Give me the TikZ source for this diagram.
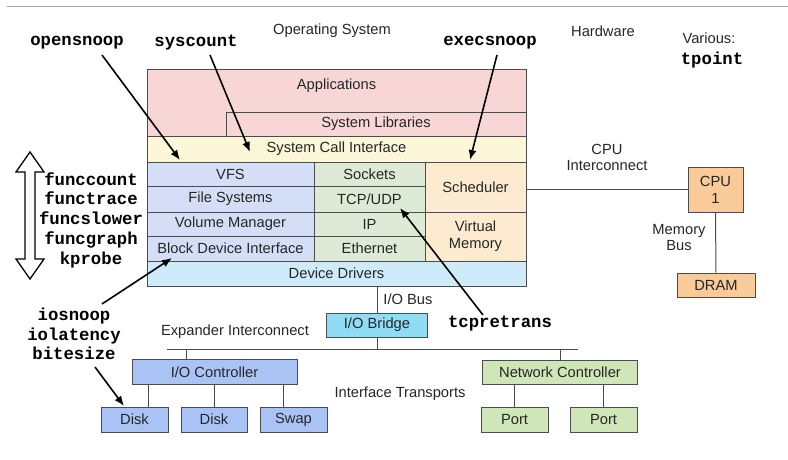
\documentclass[tikz,border=0pt]{standalone}
\usepackage{fontspec}
\setmainfont{Liberation Sans}
\setmonofont{Liberation Mono}
\usetikzlibrary{arrows.meta,calc}

\definecolor{appsC}{HTML}{F8D6D6}
\definecolor{sciC}{HTML}{FCF7D8}
\definecolor{fsC}{HTML}{D4DFF7}
\definecolor{netC}{HTML}{DDEBD6}
\definecolor{cpuC}{HTML}{FDEBD0}
\definecolor{drvC}{HTML}{CDEBF8}
\definecolor{bridgeC}{HTML}{90DCF5}
\definecolor{ioC}{HTML}{A9C4F4}
\definecolor{nicC}{HTML}{CFE6B8}
\definecolor{hwC}{HTML}{F9CB98}

\begin{document}
\begin{tikzpicture}[x=1pt,y=-1pt,
  box/.style={draw=black!70, line width=0.8pt, inner sep=0pt, align=center,
    font=\fontsize{14.7}{17}\selectfont, text=black!85},
  lbl/.style={inner sep=0pt, align=center, font=\fontsize{14.7}{16}\selectfont, text=black!85},
  tool/.style={inner sep=0pt, align=center,
    font=\fontsize{17.3}{19.7}\selectfont\ttfamily\bfseries},
  wire/.style={draw=black!70, line width=1pt},
  probe/.style={line width=1.6pt, -{Latex[length=10pt,width=8pt]}},
]
\useasboundingbox (0,0) rectangle (788,460);

% thin rule along the top edge
\draw[gray!70, line width=1pt] (7,7) -- (788,7);

% ---------- operating system stack ----------
\node[box, fill=appsC, minimum width=379pt, minimum height=67pt] (apps) at (336.5,102.5) {};
\node[lbl] (appstxt) at (336.5,86) {Applications};
\node[box, fill=appsC, minimum width=300pt, minimum height=24pt] (libs) at (376,124) {System Libraries};
\node[box, fill=sciC, minimum width=379pt, minimum height=26pt] (sci) at (336.5,149) {System Call Interface};

\node[box, fill=fsC, minimum width=167pt, minimum height=24pt] (vfs) at (230.5,174) {VFS};
\node[box, fill=fsC, minimum width=167pt, minimum height=26pt] (fs) at (230.5,199) {File Systems};
\node[box, fill=fsC, minimum width=167pt, minimum height=24pt] (vm) at (230.5,224) {Volume Manager};
\node[box, fill=fsC, minimum width=167pt, minimum height=25pt] (bdi) at (230.5,248.5) {Block Device Interface};

\node[box, fill=netC, minimum width=111pt, minimum height=24pt] (sock) at (369.5,174) {Sockets};
\node[box, fill=netC, minimum width=111pt, minimum height=26pt] (tcp) at (369.5,199) {TCP/UDP};
\node[box, fill=netC, minimum width=111pt, minimum height=24pt] (ip) at (369.5,224) {IP};
\node[box, fill=netC, minimum width=111pt, minimum height=25pt] (eth) at (369.5,248.5) {Ethernet};

\node[box, fill=cpuC, minimum width=101pt, minimum height=50pt] (sched) at (475.5,187) {Scheduler};
\node[box, fill=cpuC, minimum width=101pt, minimum height=49pt] (vmem) at (475.5,236.5) {Virtual\\Memory};

\node[box, fill=drvC, minimum width=379pt, minimum height=25pt] (drv) at (336.5,273.5) {Device Drivers};

% ---------- hardware ----------
\node[box, fill=hwC, minimum width=55pt, minimum height=45pt] (cpu) at (715.5,189.5) {CPU\\1};
\node[box, fill=hwC, minimum width=78pt, minimum height=24pt] (dram) at (716,285) {DRAM};
\draw[wire] (cpu.west -| sched.east) -- (cpu.west);
\draw[wire] (cpu.south) -- (dram.north);
\node[lbl] (cpuic) at (607,157.5) {CPU\\Interconnect};
\node[lbl] (membus) at (679,238) {Memory\\Bus};

\node[box, fill=bridgeC, minimum width=101pt, minimum height=24pt] (bridge) at (377,325) {I/O Bridge};
\draw[wire] (bridge.north |- drv.south) -- (bridge.north);
\node[lbl] (iobus) at (408,299) {I/O Bus};

\coordinate (expL) at (167,349);
\coordinate (expR) at (578,349);
\draw[wire] (expL) -- (expR);
\draw[wire] (bridge.south) -- (bridge.south |- expL);
\node[lbl] (exptxt) at (235,332) {Expander Interconnect};

\node[box, fill=ioC, minimum width=165pt, minimum height=25pt] (ioc) at (214.5,372) {I/O Controller};
\node[box, fill=nicC, minimum width=155pt, minimum height=24pt] (nic) at (560,372.5) {Network Controller};
\path (ioc.north) ++(-28,0) coordinate (iocTop);
\draw[wire] (iocTop |- expL) -- (iocTop);
\draw[wire] (nic.north |- expL) -- (nic.north);

\node[box, fill=ioC, minimum width=67pt, minimum height=25pt] (disk1) at (134.5,419.5) {Disk};
\node[box, fill=ioC, minimum width=66pt, minimum height=25pt] (disk2) at (214,419.5) {Disk};
\node[box, fill=ioC, minimum width=67pt, minimum height=25pt] (swap) at (293.5,419.5) {Swap};
\path (disk1.north) ++(13.5,0) coordinate (d1c);
\path (swap.north) ++(-10.5,0) coordinate (swc);
\draw[wire] (d1c |- ioc.south) -- (d1c);
\draw[wire] (disk2.north |- ioc.south) -- (disk2.north);
\draw[wire] (swc |- ioc.south) -- (swc);

\node[box, fill=nicC, minimum width=67pt, minimum height=25pt] (port1) at (514.5,419.5) {Port};
\node[box, fill=nicC, minimum width=67pt, minimum height=25pt] (port2) at (603.5,419.5) {Port};
\draw[wire] (port1.north |- nic.south) -- (port1.north);
\draw[wire] (port2.north |- nic.south) -- (port2.north);

\node[lbl] (itxt) at (400,394) {Interface Transports};

% ---------- headings ----------
\node[lbl] (ostxt) at (332,31) {Operating System};
\node[lbl] (hwtxt) at (603,31) {Hardware};
\node[lbl] (various) at (709,38) {Various:};
\node[tool] (tpoint) at (712,60) {tpoint};

% ---------- tracing tools ----------
\node[tool] (opensnoop) at (77,43) {opensnoop};
\node[tool] (syscount) at (196,43) {syscount};
\node[tool] (execsnoop) at (490,43) {execsnoop};
\node[tool] (tcpretrans) at (500,324) {tcpretrans};
\node[tool] (functools) at (91,220) {funccount\\functrace\\funcslower\\funcgraph\\kprobe};
\node[tool, font=\fontsize{17.3}{19.5}\selectfont\ttfamily\bfseries] (iotools) at (74,334) {iosnoop\\iolatency\\bitesize};

% double-headed arrow spanning the kernel function layers
\draw[line width=1.3pt, fill=white] (30,152) -- (44,172) -- (35,172) -- (35,259) -- (44,259)
  -- (30,279) -- (16,259) -- (25,259) -- (25,172) -- (16,172) -- cycle;

\coordinate (osA) at (102,55);   \coordinate (osB) at (180,160);
\coordinate (scA) at (210,55);   \coordinate (scB) at (250,152);
\coordinate (exA) at (497,55);   \coordinate (exB) at (470,160);
\coordinate (tcA) at (483,315);  \coordinate (tcB) at (400,208);
\coordinate (ioA) at (102,304);  \coordinate (ioB) at (172,258);
\coordinate (bsA) at (95,367);   \coordinate (bsB) at (124,406);
\draw[probe] (osA) -- (osB);
\draw[probe] (scA) -- (scB);
\draw[probe] (exA) -- (exB);
\draw[probe] (tcA) -- (tcB);
\draw[probe] (ioA) -- (ioB);
\draw[probe] (bsA) -- (bsB);
\end{tikzpicture}
\end{document}
